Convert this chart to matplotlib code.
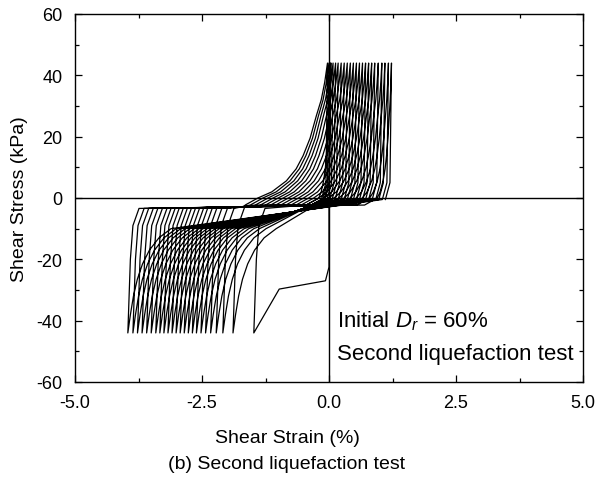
import numpy as np
import matplotlib.pyplot as plt

plt.rcParams['font.family'] = ['Liberation Sans', 'DejaVu Sans']
plt.rcParams['axes.unicode_minus'] = False
plt.rcParams['mathtext.fontset'] = 'custom'
plt.rcParams['mathtext.rm'] = 'Liberation Sans'
plt.rcParams['mathtext.it'] = 'Liberation Sans:italic'

# strain (%) at each negative stress peak, one per cycle
neg_peak = [-1.48, -1.89, -2.09, -2.22, -2.33, -2.43, -2.52, -2.61, -2.69, -2.77,
            -2.85, -2.93, -3.01, -3.09, -3.17, -3.25, -3.33, -3.41, -3.50, -3.59,
            -3.68, -3.77, -3.86, -3.96]
# strain (%) at the positive peak that follows
pos_peak = [0.03, -0.03, 0.00, 0.04, 0.08, 0.13, 0.18, 0.24, 0.30, 0.36,
            0.42, 0.48, 0.54, 0.60, 0.66, 0.72, 0.78, 0.84, 0.90, 0.97,
            1.04, 1.10, 1.17, 1.23]
# strain where the climb to the positive peak leaves ~0 kPa
rise_start = [-0.20, -1.40, -1.30, -1.20, -1.10, -1.00, -0.90, -0.80, -0.70, -0.60,
              -0.50, -0.40, -0.30, -0.20, -0.10, 0.00, 0.10, 0.20, 0.30, 0.42,
              0.54, 0.66, 0.80, 0.95]
# strain where the slide into negative peaks 2..24 turns down (about -10 kPa)
knee = [-1.04, -1.24, -1.37, -1.48, -1.58, -1.67, -1.76, -1.84, -1.92,
        -2.00, -2.08, -2.16, -2.24, -2.32, -2.40, -2.48, -2.56, -2.65, -2.74,
        -2.83, -2.92, -3.01, -3.11]
peak_stress = 44.0

# first branch from the origin to the first negative peak
first_x = [0.0, 0.0, -0.07, -0.98]
first_y = [0.0, -22.5, -27.0, -29.7]

# branch shapes
up_frac = [0.0, 0.2, 0.41, 0.55, 0.65, 0.75, 0.84, 0.91, 0.96]
up_y = [0.0, 2.0, 5.6, 9.5, 13.8, 19.5, 26.8, 32.0, 37.7]
down_frac = [1.0, 0.72, 0.5, 0.34, 0.22, 0.13, 0.06]
down_y = [-10.0, -13.0, -17.0, -21.5, -26.5, -32.0, -38.0]
unload_dx = [0.05, 0.10, 0.22]
unload_y = [-20.0, -9.0, -3.4]

xs, ys = list(first_x), list(first_y)
for i in range(len(neg_peak)):
    n, p, a = neg_peak[i], pos_peak[i], rise_start[i]
    if i > 0:
        k = knee[i - 1]
        xs += [n + f * (k - n) for f in down_frac]
        ys += down_y
    xs.append(n)
    ys.append(-peak_stress)
    xs += [n + d for d in unload_dx]
    ys += unload_y
    xs.append(a - 0.25)
    ys.append(-2.3)
    xs += [a + f * (p - a) for f in up_frac]
    ys += up_y
    xs.append(p)
    ys.append(peak_stress)
    xs += [p - 0.03, p - 0.12]
    ys += [5.0, -0.5]

fig = plt.figure(figsize=(5.99, 4.81), dpi=100)
ax = fig.add_axes([75 / 599, 1 - 383 / 481, 508 / 599, 368 / 481])

ax.axhline(0, color='black', lw=1.0)
ax.axvline(0, color='black', lw=1.0)
ax.plot(xs, ys, color='black', lw=0.9)

ax.set_xlim(-5, 5)
ax.set_ylim(-60, 60)
ax.set_xticks([-5, -2.5, 0, 2.5, 5])
ax.set_xticklabels(['-5.0', '-2.5', '0.0', '2.5', '5.0'])
ax.set_xticks(np.arange(-3.75, 5, 2.5), minor=True)
ax.set_yticks(np.arange(-60, 61, 20))
ax.set_yticks(np.arange(-50, 60, 20), minor=True)
ax.tick_params(which='both', direction='in', top=True, right=True, labelsize=13,
               width=0.9, pad=9)
ax.tick_params(which='major', length=5)
ax.tick_params(which='minor', length=3)
for s in ax.spines.values():
    s.set_linewidth(1.0)

ax.text(0.15, -42, r'Initial $D_r$ = 60%', fontsize=16)
ax.text(0.15, -52.5, 'Second liquefaction test', fontsize=16)

fig.text(287 / 599, 1 - 439 / 481, 'Shear Strain (%)', fontsize=14, ha='center', va='center')
fig.text(287 / 599, 1 - 465 / 481, '(b) Second liquefaction test', fontsize=14, ha='center', va='center')
ax.set_ylabel('Shear Stress (kPa)', fontsize=14)
ax.yaxis.set_label_coords((28 - 75) / 508, 0.5)

fig.savefig('out.png', dpi=100)
